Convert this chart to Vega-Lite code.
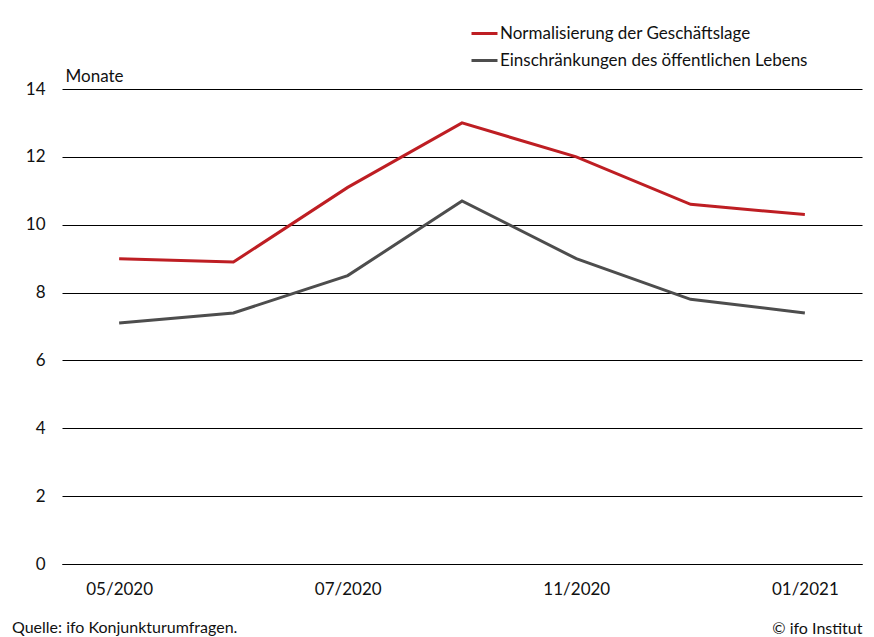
{
  "$schema": "https://vega.github.io/schema/vega-lite/v6.json",
  "width": 800,
  "height": 475,
  "autosize": {"type": "none"},
  "padding": {"left": 62, "top": 89, "right": 12, "bottom": 73},
  "background": "white",
  "config": {
    "font": "Lato",
    "view": {"stroke": null},
    "text": {"font": "Lato"}
  },
  "title": {
    "text": "Quelle: ifo Konjunkturumfragen.",
    "orient": "bottom",
    "anchor": "start",
    "frame": "group",
    "dx": -50,
    "dy": -20,
    "fontSize": 16,
    "fontWeight": "normal",
    "color": "#111",
    "font": "Lato"
  },
  "data": {
    "values": [
      {"monat": "05/2020", "serie": "Normalisierung der Geschäftslage", "wert": 9.0},
      {"monat": "06/2020", "serie": "Normalisierung der Geschäftslage", "wert": 8.9},
      {"monat": "07/2020", "serie": "Normalisierung der Geschäftslage", "wert": 11.1},
      {"monat": "09/2020", "serie": "Normalisierung der Geschäftslage", "wert": 13.0},
      {"monat": "11/2020", "serie": "Normalisierung der Geschäftslage", "wert": 12.0},
      {"monat": "12/2020", "serie": "Normalisierung der Geschäftslage", "wert": 10.6},
      {"monat": "01/2021", "serie": "Normalisierung der Geschäftslage", "wert": 10.3},
      {"monat": "05/2020", "serie": "Einschränkungen des öffentlichen Lebens", "wert": 7.1},
      {"monat": "06/2020", "serie": "Einschränkungen des öffentlichen Lebens", "wert": 7.4},
      {"monat": "07/2020", "serie": "Einschränkungen des öffentlichen Lebens", "wert": 8.5},
      {"monat": "09/2020", "serie": "Einschränkungen des öffentlichen Lebens", "wert": 10.7},
      {"monat": "11/2020", "serie": "Einschränkungen des öffentlichen Lebens", "wert": 9.0},
      {"monat": "12/2020", "serie": "Einschränkungen des öffentlichen Lebens", "wert": 7.8},
      {"monat": "01/2021", "serie": "Einschränkungen des öffentlichen Lebens", "wert": 7.4}
    ]
  },
  "mark": {"type": "line", "strokeWidth": 3},
  "encoding": {
    "x": {
      "field": "monat",
      "type": "ordinal",
      "sort": null,
      "scale": {"type": "point", "padding": 0.5},
      "axis": {
        "values": ["05/2020", "07/2020", "11/2020", "01/2021"],
        "labelAngle": 0,
        "ticks": false,
        "domain": true,
        "domainColor": "#000",
        "domainWidth": 1,
        "labelFontSize": 17,
        "labelColor": "#111",
        "labelPadding": 17,
        "labelFont": "Lato",
        "title": "© ifo Institut",
        "titleFont": "Lato",
        "titleFontSize": 16,
        "titleFontWeight": "normal",
        "titleColor": "#111",
        "titleAnchor": "end",
        "titleAlign": "right",
        "titleBaseline": "alphabetic",
        "titleX": 800,
        "titleY": 69
      }
    },
    "y": {
      "field": "wert",
      "type": "quantitative",
      "scale": {"domain": [0, 14], "nice": false},
      "axis": {
        "values": [0, 2, 4, 6, 8, 10, 12, 14],
        "domain": false,
        "ticks": false,
        "grid": true,
        "gridColor": "#000",
        "gridWidth": 1,
        "gridOpacity": 1,
        "labelFontSize": 17,
        "labelColor": "#111",
        "labelPadding": 17,
        "labelFont": "Lato",
        "title": "Monate",
        "titleFont": "Lato",
        "titleFontSize": 17,
        "titleFontWeight": "normal",
        "titleColor": "#111",
        "titleAngle": 0,
        "titleAlign": "left",
        "titleBaseline": "alphabetic",
        "titleX": 3,
        "titleY": -8
      }
    },
    "color": {
      "field": "serie",
      "type": "nominal",
      "scale": {
        "domain": ["Normalisierung der Geschäftslage", "Einschränkungen des öffentlichen Lebens"],
        "range": ["#BE1E23", "#4D4D4D"]
      },
      "legend": {
        "title": null,
        "orient": "none",
        "legendX": 408,
        "legendY": -70,
        "symbolType": "stroke",
        "symbolSize": 676,
        "symbolStrokeWidth": 3,
        "labelFontSize": 17,
        "labelFont": "Lato",
        "labelColor": "#111",
        "labelOffset": 1,
        "rowPadding": 4,
        "labelLimit": 400
      }
    }
  }
}
